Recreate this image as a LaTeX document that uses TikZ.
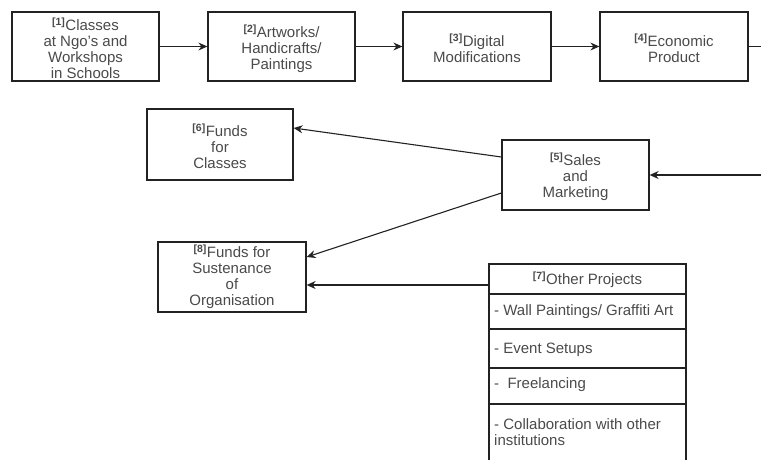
\documentclass[tikz,border=0pt]{standalone}
\usepackage{fontspec}
\setmainfont{Liberation Sans}
\usetikzlibrary{arrows.meta,calc}
\definecolor{txt}{HTML}{4A4A4A}
\definecolor{edge}{HTML}{222222}
\newcommand{\numtag}[1]{\textsuperscript{\bfseries[#1]}}
\tikzset{
  box/.style={draw=edge, line width=1.3pt, fill=white, inner sep=0pt},
  lbl/.style={align=center, text=txt, font=\fontsize{15}{16}\selectfont, inner sep=0pt},
  row/.style={draw=edge, line width=1.3pt, minimum width=197pt, inner sep=0pt},
  item/.style={text=txt, font=\fontsize{15}{16}\selectfont, align=left, inner sep=0pt, anchor=west},
  conn/.style={draw=edge, line width=1.1pt},
  arr/.style={conn, -{Stealth[length=9pt,width=8pt,inset=3pt]}}
}
\begin{document}
\begin{tikzpicture}[x=1pt,y=-1pt]
\path[use as bounding box] (0,0) rectangle (761,459);
\clip (0,0) rectangle (761,459);
% top row
\node[box, minimum width=147pt, minimum height=69pt] (b1) at (85.5,46.5) {};
\node[box, minimum width=147pt, minimum height=69pt] (b2) at (281.5,46.5) {};
\node[box, minimum width=148pt, minimum height=69pt] (b3) at (477,46.5) {};
\node[box, minimum width=148pt, minimum height=69pt] (b4) at (674,46.5) {};
\node[lbl] (b1t) at (85.5,48.5) {\numtag{1}Classes\\at Ngo's and\\Workshops\\in Schools};
\node[lbl] (b2t) at (281.5,48.5) {\numtag{2}Artworks/\\Handicrafts/\\Paintings};
\node[lbl] (b3t) at (477,48) {\numtag{3}Digital\\Modifications};
\node[lbl] (b4t) at (674,48) {\numtag{4}Economic\\Product};
% middle
\node[box, minimum width=147pt, minimum height=70pt] (b5) at (575.5,175) {};
\node[box, minimum width=146pt, minimum height=71pt] (b6) at (220,144.5) {};
\node[box, minimum width=148pt, minimum height=70pt] (b8) at (232,277) {};
\node[lbl] (b5t) at (575.5,177) {\numtag{5}Sales\\and\\Marketing};
\node[lbl] (b6t) at (220,146.5) {\numtag{6}Funds\\for\\Classes};
\node[lbl] (b8t) at (232,277) {\numtag{8}Funds for\\Sustenance\\of\\Organisation};
% other projects list
\node[row, minimum height=30pt] (t7) at (587.5,279) {};
\node[row, minimum height=35pt] (r1) at (587.5,311.5) {};
\node[row, minimum height=39pt] (r2) at (587.5,348.5) {};
\node[row, minimum height=36pt] (r3) at (587.5,386) {};
\node[row, minimum height=70pt] (r4) at (587.5,439) {};
\node[lbl] (t7txt) at (587.5,280) {\numtag{7}Other Projects};
\node[item] (i1) at (494,311.5) {- Wall Paintings/ Graffiti Art};
\node[item] (i2) at (494,350) {- Event Setups};
\node[item] (i3) at (494,385) {-\ \ Freelancing};
\node[item] (i4) at (494,432) {- Collaboration with other\\institutions};
% connectors
\draw[arr] (b1.east) -- (b2.west);
\draw[arr] (b2.east) -- (b3.west);
\draw[arr] (b3.east) -- (b4.west);
\coordinate (o1) at (780,46.5);
\coordinate (o2) at (780,175);
\draw[arr] (b4.east) -- (o1) -- (o2) -- (b5.east);
\draw[arr] ([yshift=18pt]b5.west) -- ([yshift=16.5pt]b6.east);
\draw[arr] ([yshift=-18pt]b5.west) -- ([yshift=20pt]b8.east);
\coordinate (s7) at (t7.west |- 0,285);
\draw[arr] (s7) -- ([yshift=-8pt]b8.east);
\end{tikzpicture}
\end{document}
